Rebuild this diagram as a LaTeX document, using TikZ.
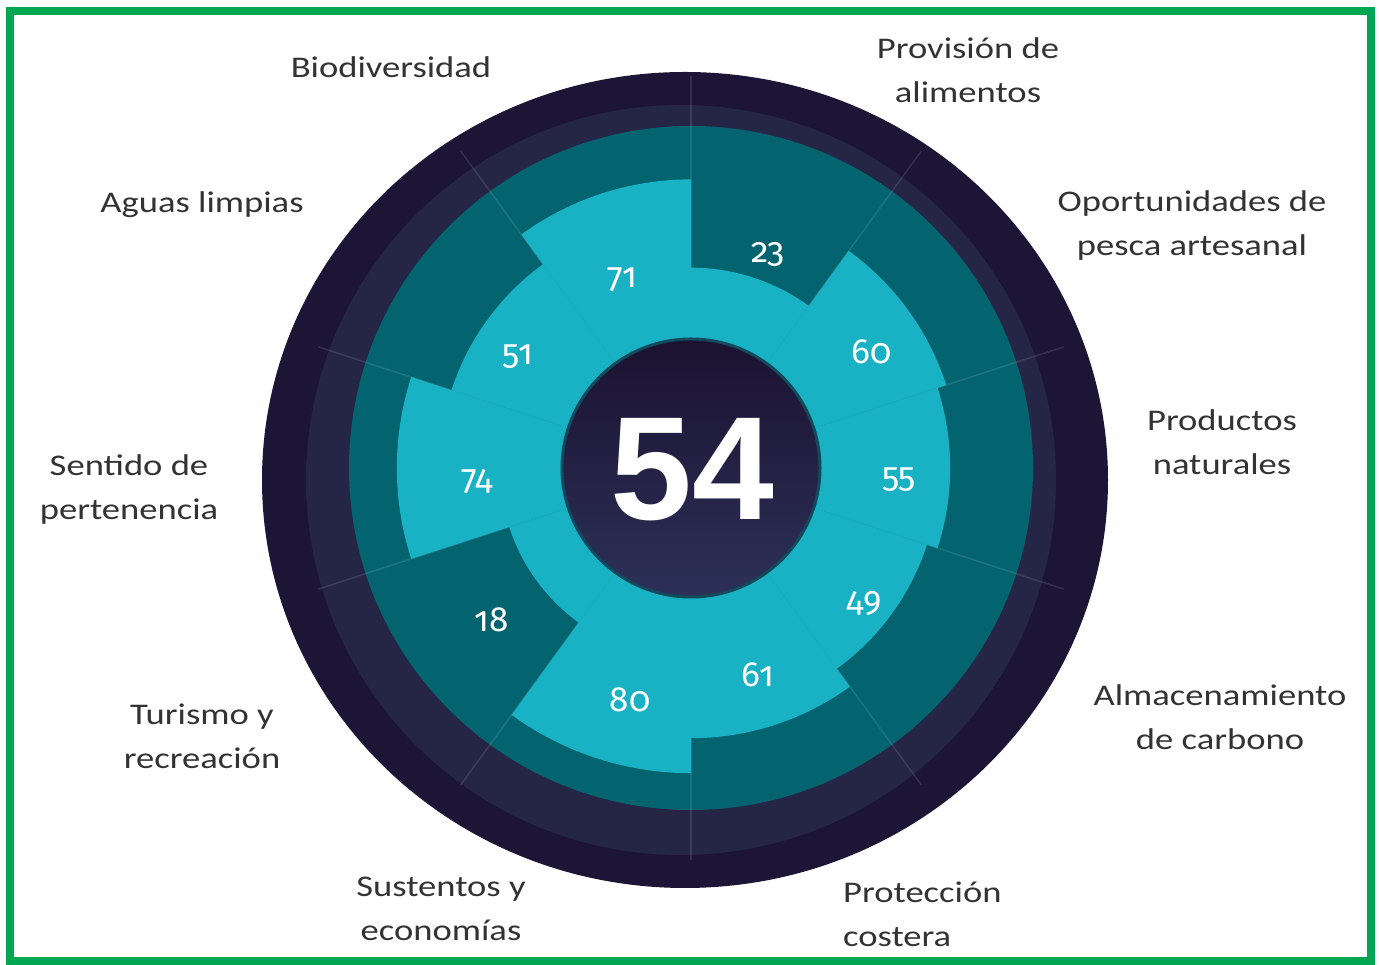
\documentclass[tikz,border=0pt]{standalone}
\usepackage{fontspec}
\setmainfont{Carlito}[FakeStretch=1.22]
\newfontfamily\numfont{Fira Sans}[Numbers=OldStyle]
\newfontfamily\bigfont{Liberation Sans}
\definecolor{outerc}{HTML}{1D1535}
\definecolor{midc}{HTML}{252546}
\definecolor{tealc}{HTML}{03636F}
\definecolor{cyanc}{HTML}{19B2C4}
\definecolor{centtop}{HTML}{1B1230}
\definecolor{centbot}{HTML}{2C3058}
\definecolor{rimc}{HTML}{114A5C}
\definecolor{labc}{HTML}{333333}
\definecolor{greenc}{HTML}{00A651}
\begin{document}
\begin{tikzpicture}[x=1pt,y=1pt,
  lab/.style={text=labc, font=\fontsize{30}{44}\selectfont, align=center, inner sep=0pt},
  num/.style={text=white, font=\numfont\fontsize{35}{40}\selectfont, inner sep=0pt},
  sepline/.style={white, opacity=0.11, line width=1.5pt}]
\useasboundingbox (0,0) rectangle (1379,965);
\fill[white] (0,0) rectangle (1379,965);
% outer rings
\fill[outerc] (685,485) ellipse [x radius=423, y radius=408];
\fill[midc] (681,485) circle [radius=375];
\begin{scope}[shift={(691,497)}]
  \fill[tealc] (0,0) circle [radius=342];
  \begin{scope}
    \clip (-6,-12) ellipse [x radius=421, y radius=406];
    \foreach \a in {90,54,...,-234} \draw[sepline] (0,0) -- (\a:392);
  \end{scope}
  \foreach \a/\s in {90/23, 54/60, 18/55, -18/49, -54/61, -90/80, -126/18, -162/74, -198/51, -234/71}{
    \pgfmathsetmacro\rr{158+1.84*\s}
    \fill[cyanc] (0,0) -- (\a:\rr) arc [start angle=\a, end angle=\a-36, radius=\rr] -- cycle;
  }
  \shadedraw[top color=centtop, bottom color=centbot, draw=rimc, line width=3pt] (0,0) circle [radius=129];
\end{scope}
% centre score
\node[font=\bigfont\bfseries\fontsize{147}{150}\selectfont, text=white, inner sep=0pt] (score) at (692.5,495) {54};
% sector scores
\node[num] (n23) at (768,710) {23};
\node[num] (n71) at (622,685) {71};
\node[num] (n51) at (518,608) {51};
\node[num] (n60) at (872,613) {60};
\node[num] (n74) at (477,483) {74};
\node[num] (n55) at (899,485) {55};
\node[num] (n49) at (864,361) {49};
\node[num] (n18) at (492,345) {18};
\node[num] (n61) at (758,290) {61};
\node[num] (n80) at (630,265) {80};
% labels
\node[lab] (lbio) at (391,898) {Biodiversidad};
\node[lab] (lprov) at (968,895) {Provisión de\\alimentos};
\node[lab] (lopor) at (1192,739.5) {Oportunidades de\\pesca artesanal};
\node[lab] (lprod) at (1222,523) {Productos\\naturales};
\node[lab] (lalm) at (1220,248) {Almacenamiento\\de carbono};
\node[lab, align=left, anchor=west] (lprot) at (843,51) {Protección\\costera};
\node[lab] (lsust) at (441,56.5) {Sustentos y\\economías};
\node[lab] (ltur) at (202,228.5) {Turismo y\\recreación};
\node[lab] (lsent) at (129,475) {Sentido de\\pertenencia};
\node[lab] (lagua) at (202,760) {Aguas limpias};
% frame
\draw[greenc, line width=8pt] (10,4) rectangle (1371,954);
\end{tikzpicture}
\end{document}
